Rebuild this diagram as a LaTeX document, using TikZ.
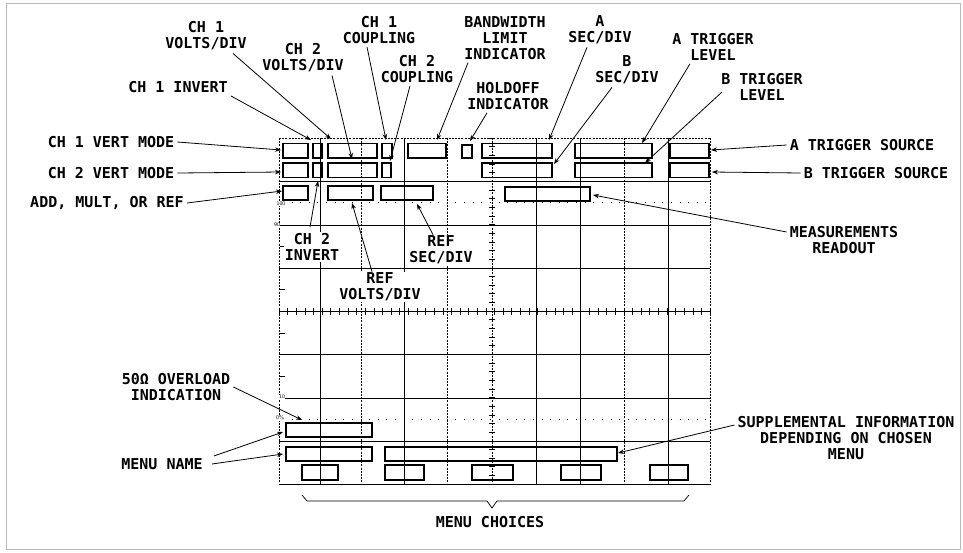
\documentclass[tikz,border=0pt]{standalone}
\usepackage{fontspec}
\newfontfamily\plotfont{DejaVu Sans Mono}
\usetikzlibrary{arrows.meta}
\begin{document}
\begin{tikzpicture}[x=1pt,y=-1pt,
  lbl/.style={font=\plotfont\bfseries\fontsize{15}{16}\selectfont, align=center, inner sep=3pt},
  lblw/.style={lbl, fill=white, inner sep=1pt},
  ptr/.style={line width=0.8pt, -{Stealth[length=6pt,width=4.5pt]}},
  rd/.style={draw, line width=1.1pt},
  gsolid/.style={line width=0.7pt},
  gdot/.style={line width=0.7pt, dash pattern=on 2pt off 1.2pt},
  tinylbl/.style={font=\sffamily\fontsize{5.5}{6}\selectfont, inner sep=0.3pt, fill=white}
]
\useasboundingbox (0,0) rectangle (963,552);
\draw[gray!55, line width=1pt] (6,3) rectangle (960,549);

% graticule
\foreach \x in {320,404,536,580,668} \draw[gsolid] (\x,138) -- (\x,484);
\foreach \x in {279,361,447,492,624,710} \draw[gdot] (\x,138) -- (\x,484);
\foreach \y in {181.5,225,268,311,354.5,398,441,484} \draw[gsolid] (279,\y) -- (710,\y);
\draw[gdot] (279,138) -- (710,138);
\foreach \k in {0,...,50} \draw[line width=0.5pt] (279+\k*8.62,307.5) -- (279+\k*8.62,314.5);
\foreach \k in {0,...,40} \draw[line width=0.5pt] (489,138+\k*8.65) -- (495,138+\k*8.65);
\foreach \y in {246.5,289.5,333,376} \draw[line width=0.5pt] (280,\y) -- (285,\y);
\draw[line width=0.8pt, dash pattern=on 1pt off 7.62pt] (283,202.5) -- (710,202.5);
\draw[line width=0.8pt, dash pattern=on 1pt off 7.62pt] (283,419.5) -- (710,419.5);
\node[tinylbl] (p100) at (281,204) {100};
\node[tinylbl] (p90) at (277,225) {90};
\node[tinylbl] (p10) at (282,397) {10};
\node[tinylbl] (p0) at (280,418) {0\%};

% readout boxes
\foreach \a/\b in {283/308,313/322,328/377,382/392,408/446,482/552,575/652,670/709}
  \draw[rd] (\a,143.5) rectangle (\b,158);
\draw[rd] (462,145) rectangle (472,158);
\foreach \a/\b in {283/308,313/322,328/377,382/391,482/552,575/652,670/709}
  \draw[rd] (\a,163) rectangle (\b,177.5);
\foreach \a/\b in {283/308,328/373,381/433}
  \draw[rd] (\a,186) rectangle (\b,200);
\draw[rd] (505,187) rectangle (590,201);
\draw[rd] (286,423) rectangle (372,437);
\draw[rd] (286,447) rectangle (372,461);
\draw[rd] (385,447) rectangle (617,461);
\foreach \a/\b in {302/338,385/424,472/513,561/601,650/688}
  \draw[rd] (\a,465) rectangle (\b,480);

% brace
\draw[line width=0.7pt] (302,495) -- (307,501) -- (487,501) -- (492,508) -- (497,501) -- (684,501) -- (689,495);

% labels
\node[lbl] (c1v) at (206,36) {CH 1\\VOLTS/DIV};
\node[lbl] (c2v) at (303,58) {CH 2\\VOLTS/DIV};
\node[lbl] (c1i) at (178,87) {CH 1 INVERT};
\node[lbl] (c1vm) at (111,142) {CH 1 VERT MODE};
\node[lbl] (c2vm) at (111,173) {CH 2 VERT MODE};
\node[lbl] (addm) at (107,203) {ADD, MULT, OR REF};
\node[lbl] (c1c) at (379,30) {CH 1\\COUPLING};
\node[lbl] (c2c) at (417,69) {CH 2\\COUPLING};
\node[lbl] (bw) at (505,38) {BANDWIDTH\\LIMIT\\INDICATOR};
\node[lbl] (ho) at (508,96) {HOLDOFF\\INDICATOR};
\node[lbl] (asd) at (600,30) {A\\SEC/DIV};
\node[lbl] (bsd) at (627,70) {B\\SEC/DIV};
\node[lbl] (atl) at (713,47) {A TRIGGER\\LEVEL};
\node[lbl] (btl) at (762,87) {B TRIGGER\\LEVEL};
\node[lbl] (ats) at (862,145) {A TRIGGER SOURCE};
\node[lbl] (bts) at (876,173) {B TRIGGER SOURCE};
\node[lblw] (c2i) at (312,247) {CH 2\\INVERT};
\node[lblw] (rsd) at (441,250) {REF\\SEC/DIV};
\node[lblw] (rvd) at (380,287) {REF\\VOLTS/DIV};
\node[lbl] (mr) at (844,240) {MEASUREMENTS\\READOUT};
\node[lbl] (ovl) at (176,387) {50Ω OVERLOAD\\INDICATION};
\node[lbl] (mn) at (162,464) {MENU NAME};
\node[lbl] (sup) at (846,438) {SUPPLEMENTAL INFORMATION\\DEPENDING ON CHOSEN\\MENU};
\node[lbl] (mc) at (490,522) {MENU CHOICES};

% arrow tips
\coordinate (t1vm) at (281,150);
\coordinate (t2vm) at (281,172);
\coordinate (tadd) at (282,191);
\coordinate (tc1i) at (311,140);
\coordinate (tc1v) at (331,139);
\coordinate (tc2v) at (352,159);
\coordinate (tc1c) at (386,140);
\coordinate (tc2c) at (390,161);
\coordinate (tbw) at (437,140);
\coordinate (tho) at (470,141);
\coordinate (tasd) at (549,140);
\coordinate (tbsd) at (554,164);
\coordinate (tatl) at (642,143);
\coordinate (tbtl) at (645,163);
\coordinate (tats) at (711,150);
\coordinate (tbts) at (712,172);
\coordinate (tc2i) at (318,181);
\coordinate (trvd) at (352,203);
\coordinate (trsd) at (417,204);
\coordinate (tmr) at (593,195);
\coordinate (tovl) at (302,420);
\coordinate (tmn1) at (283,432);
\coordinate (tmn2) at (283,454);
\coordinate (tsup) at (618,453);

% connectors
\draw[ptr] (c1vm.east) -- (t1vm);
\draw[ptr] (c2vm.east) -- (t2vm);
\draw[ptr] (addm.east) -- (tadd);
\draw[ptr] (c1i.south east) -- (tc1i);
\draw[ptr] ([xshift=27pt]c1v.south) -- (tc1v);
\draw[ptr] ([xshift=29pt]c2v.south) -- (tc2v);
\draw[ptr] ([xshift=-12pt]c1c.south) -- (tc1c);
\draw[ptr] ([xshift=-7pt]c2c.south) -- (tc2c);
\draw[ptr] ([xshift=-37pt]bw.south) -- (tbw);
\draw[ptr] ([xshift=-21pt]ho.south) -- (tho);
\draw[ptr] ([xshift=-13pt]asd.south) -- (tasd);
\draw[ptr] ([xshift=-15pt]bsd.south) -- (tbsd);
\draw[ptr] ([xshift=-23pt]atl.south) -- (tatl);
\draw[ptr] ([xshift=-40pt,yshift=-5pt]btl.center) -- (tbtl);
\draw[ptr] (ats.west) -- (tats);
\draw[ptr] (bts.west) -- (tbts);
\draw[ptr] ([xshift=-2pt,yshift=5pt]c2i.north) -- (tc2i);
\draw[ptr] ([xshift=-8pt]rvd.north) -- (trvd);
\draw[ptr] ([xshift=-8pt]rsd.north) -- (trsd);
\draw[ptr] ([yshift=8pt]mr.west) -- (tmr);
\draw[ptr] (ovl.east) -- (tovl);
\draw[ptr] ([xshift=8pt,yshift=8pt]mn.east) -- (tmn1);
\draw[ptr] ([xshift=6pt]mn.east) -- (tmn2);
\draw[ptr] ([yshift=13pt]sup.west) -- (tsup);
\end{tikzpicture}
\end{document}
